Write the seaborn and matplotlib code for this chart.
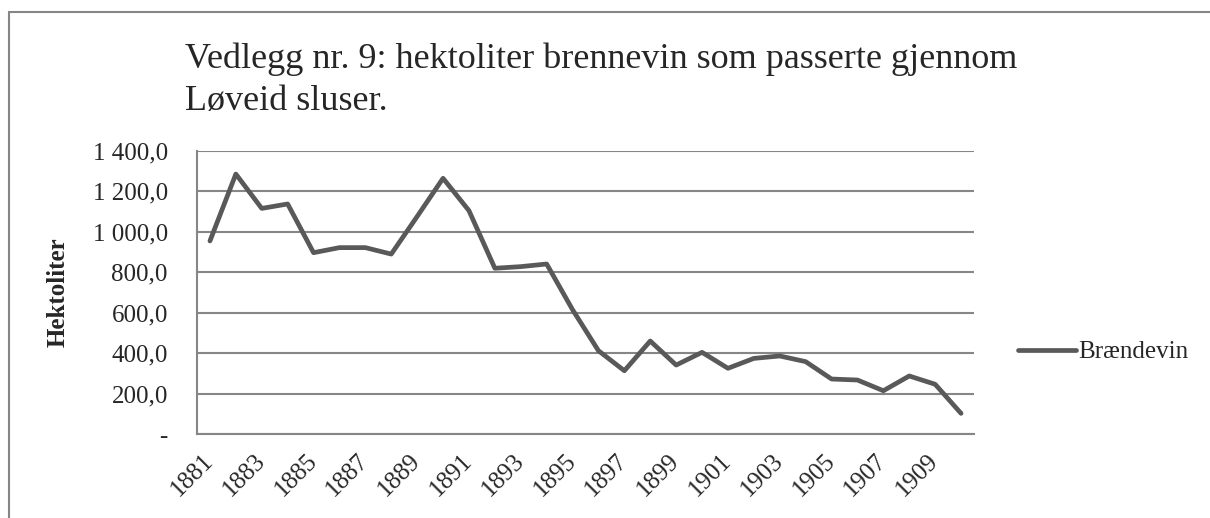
"""Brennevin gjennom Løveid sluser, 1881-1910."""

import matplotlib
matplotlib.use("Agg")
import matplotlib.pyplot as plt
from matplotlib.patches import Rectangle
from matplotlib.ticker import FuncFormatter
import pandas as pd
import seaborn as sns

sns.set_theme(style="white")
plt.rcParams["font.family"] = ["Liberation Serif", "DejaVu Serif"]

years = list(range(1881, 1911))
hektoliter = [955, 1286, 1116, 1138, 897, 922, 922, 890, 1076, 1265,
              1105, 820, 828, 841, 615, 412, 313, 460, 341, 404,
              325, 374, 386, 358, 272, 267, 214, 287, 246, 102]
series_name = "Brændevin"
title_lines = ["Vedlegg nr. 9: hektoliter brennevin som passerte gjennom",
               "Løveid sluser."]
y_label = "Hektoliter"

LINE = "#595959"
GRID = "#868686"
FS = 18

df = pd.DataFrame({"year": years, "value": hektoliter, "serie": series_name})


def _fmt(v, _pos):
    if v == 0:
        return "-"
    s = f"{v:,.1f}"
    return s.replace(",", " ").replace(".", ",")


fig = plt.figure(figsize=(12.10, 5.18), dpi=100)
ax = fig.add_axes([197 / 1210, 1 - 434 / 518, (974 - 197) / 1210, (434 - 151) / 518])

sns.lineplot(data=df, x="year", y="value", hue="serie", palette=[LINE],
             linewidth=3.4, ax=ax, legend=True)

ax.set_xlim(years[0] - 0.5, years[-1] + 0.5)
ax.set_ylim(0, 1400)
ax.set_yticks(range(0, 1401, 200))
ax.yaxis.set_major_formatter(FuncFormatter(_fmt))
ax.set_xticks(years[::2])
ax.set_xticklabels([str(y) for y in years[::2]], rotation=45, ha="right",
                   va="center", rotation_mode="anchor", fontsize=FS)
ax.tick_params(axis="y", labelsize=FS, length=0, pad=21)
ax.tick_params(axis="x", length=0, pad=17)

ax.grid(axis="y", color=GRID, linewidth=1.5)
ax.grid(axis="x", visible=False)
for side in ("top", "right"):
    ax.spines[side].set_visible(False)
for side in ("left", "bottom"):
    ax.spines[side].set_color(GRID)
    ax.spines[side].set_linewidth(1.5)

ax.set_xlabel("")
ax.set_ylabel("")
fig.text(58 / 1210, 1 - 292 / 518, y_label, rotation=90, fontsize=FS,
         fontweight="bold", ha="center", va="center")

for i, line in enumerate(title_lines):
    fig.text(185 / 1210, 1 - (68 + 42 * i) / 518, line, fontsize=26,
             ha="left", va="baseline")

handles, labels = ax.get_legend_handles_labels()
ax.legend(handles, labels, loc="center left", frameon=False, fontsize=FS,
          bbox_to_anchor=(1018 / 1210, 1 - 352 / 518),
          bbox_transform=fig.transFigure, borderpad=0, borderaxespad=0,
          handlelength=2.3, handletextpad=0.1)

fig.patches.append(Rectangle((9 / 1210, -0.1), 1.2, 1.1 - 12 / 518,
                             transform=fig.transFigure, fill=False,
                             edgecolor=GRID, linewidth=1.5))

fig.savefig("out.png", dpi=100)
